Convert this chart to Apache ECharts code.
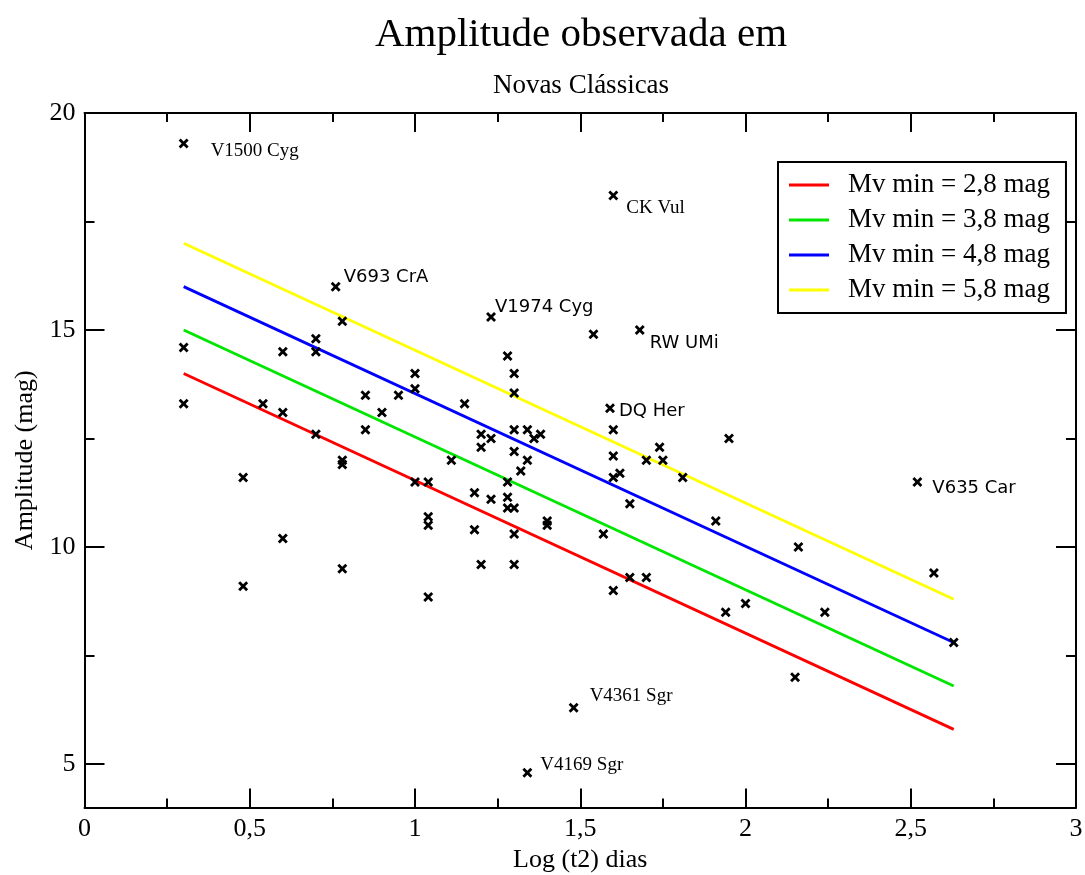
<!DOCTYPE html>
<html>
<head>
<meta charset="utf-8">
<script src="https://cdn.jsdelivr.net/npm/echarts@6/dist/echarts.min.js"></script>
<style>
  html, body { margin: 0; padding: 0; background: #ffffff; }
  #chart { width: 1085px; height: 875px; }
</style>
</head>
<body>
<div id="chart"></div>
<script>
// Classical novae: log of t2 (days) and observed amplitude (mag)
const logT2 = [
  0.30, 0.30, 0.48, 0.48, 0.54, 0.60, 0.60, 0.60, 0.70, 0.70, 0.70,
  0.78, 0.78, 0.78, 0.78, 0.85, 0.85, 0.90, 0.95, 1.00, 1.00, 1.00,
  1.04, 1.04, 1.04, 1.04, 1.11, 1.15, 1.18, 1.18, 1.20, 1.20, 1.20,
  1.23, 1.23, 1.28, 1.28, 1.28, 1.28, 1.30, 1.30, 1.30, 1.30, 1.30,
  1.30, 1.30, 1.32, 1.34, 1.34, 1.36, 1.38, 1.40, 1.40, 1.54, 1.57,
  1.60, 1.60, 1.60, 1.60, 1.62, 1.65, 1.65, 1.70, 1.70, 1.74, 1.75,
  1.81, 1.91, 1.94, 1.95, 2.00, 2.15, 2.16, 2.24, 2.57, 2.63
];
const amplitude = [
  14.6, 13.3, 11.6, 9.1, 13.3, 14.5, 13.1, 10.2, 14.8, 14.5, 12.6,
  15.2, 12.0, 11.9, 9.5, 13.5, 12.7, 13.1, 13.5, 14.0, 13.65, 11.5,
  11.5, 10.7, 10.5, 8.85, 12.0, 13.3, 11.25, 10.4, 12.6, 12.3, 9.6,
  12.5, 11.1, 14.4, 11.5, 11.15, 10.9, 14.0, 13.55, 12.7, 12.2, 10.9,
  10.3, 9.6, 11.75, 12.7, 12.0, 12.5, 12.6, 10.6, 10.5, 14.9, 10.3,
  12.7, 12.1, 11.6, 9.0, 11.7, 11.0, 9.3, 12.0, 9.3, 12.3, 12.0,
  11.6, 10.6, 8.5, 12.5, 8.7, 7.0, 10.0, 8.5, 9.4, 7.8
];

// Individually labelled novae
const namedNovae = ['V1500 Cyg', 'V693 CrA', 'CK Vul', 'V1974 Cyg', 'RW UMi', 'DQ Her', 'V635 Car', 'V4361 Sgr', 'V4169 Sgr'];
const namedLogT2 = [0.30, 0.76, 1.60, 1.23, 1.68, 1.59, 2.52, 1.48, 1.34];
const namedAmplitude = [19.3, 16.0, 18.1, 15.3, 15.0, 13.2, 11.5, 6.3, 4.8];

// Expected amplitude for four values of the minimum absolute magnitude
const fitNames = ['Mv min = 2,8 mag', 'Mv min = 3,8 mag', 'Mv min = 4,8 mag', 'Mv min = 5,8 mag'];
const fitLogT2 = [0.30, 2.63];
const fitMv28 = [14.0, 5.8];
const fitMv38 = [15.0, 6.8];
const fitMv48 = [16.0, 7.8];
const fitMv58 = [17.0, 8.8];

const yMajorTicks = [5, 10, 15, 20];
const yMinorTicks = [7.5, 12.5, 17.5];

// Label styling per named nova: [font family, dx, dy]
const SERIF = 'Liberation Serif, Times New Roman, serif';
const SANS = 'DejaVu Sans, sans-serif';
const labelStyle = {
  'V1500 Cyg': [SERIF, 27, 8],
  'V693 CrA': [SANS, 8, -9],
  'CK Vul': [SERIF, 13, 13],
  'V1974 Cyg': [SANS, 4, -10],
  'RW UMi': [SANS, 10, 13],
  'DQ Her': [SANS, 9, 3],
  'V635 Car': [SANS, 15, 6],
  'V4361 Sgr': [SERIF, 16, -12],
  'V4169 Sgr': [SERIF, 13, -8]
};

// Bold "x" marker
const CROSS = 'path://M0,2L2,0L5,3L8,0L10,2L7,5L10,8L8,10L5,7L2,10L0,8L3,5Z';
const MARK = 10;

const zip = (xs, ys) => xs.map((x, i) => [x, ys[i]]);

const namedData = namedNovae.map((name, i) => {
  const st = labelStyle[name];
  return {
    name: name,
    value: [namedLogT2[i], namedAmplitude[i]],
    label: {
      show: true,
      formatter: '{b}',
      position: 'right',
      distance: 0,
      offset: [st[1] - MARK / 2, st[2]],
      fontFamily: st[0],
      fontSize: st[0] === SANS ? 18 : 19,
      color: '#000',
      opacity: 1
    }
  };
});

const fitColors = ['#ff0000', '#00e600', '#0000ff', '#ffff00'];
const fitValues = [fitMv28, fitMv38, fitMv48, fitMv58];

const fitSeries = fitNames.map((name, i) => ({
  name: name,
  type: 'line',
  data: zip(fitLogT2, fitValues[i]),
  showSymbol: false,
  symbol: 'none',
  lineStyle: { color: fitColors[i], width: 2.8 },
  itemStyle: { color: fitColors[i] },
  z: 2,
  silent: true
}));

const axisBlack = { color: '#000', width: 2 };

function xAxisDef(pos, labels) {
  return {
    type: 'value', position: pos, min: 0, max: 3, interval: 0.5,
    axisLine: { show: true, onZero: false, lineStyle: axisBlack },
    axisTick: { show: true, inside: true, length: 19, lineStyle: axisBlack },
    minorTick: { show: true, splitNumber: 2, length: 9, lineStyle: axisBlack },
    splitLine: { show: false },
    minorSplitLine: { show: false },
    axisLabel: labels ? {
      show: true, margin: 9, color: '#000',
      fontFamily: SERIF, fontSize: 26,
      formatter: v => String(v).replace('.', ',')
    } : { show: false },
    name: labels ? 'Log (t2) dias' : '',
    nameLocation: 'middle', nameGap: 38,
    nameTextStyle: { fontFamily: SERIF, fontSize: 26, color: '#000' }
  };
}

function yAxisDef(pos, ticks, len, line, labels) {
  return {
    type: 'value', position: pos, min: 4, max: 20,
    axisLine: { show: line, onZero: false, lineStyle: axisBlack },
    axisTick: { show: true, inside: true, length: len, customValues: ticks, lineStyle: axisBlack },
    splitLine: { show: false },
    axisLabel: labels ? {
      show: true, margin: 9, color: '#000', customValues: ticks,
      fontFamily: SERIF, fontSize: 26
    } : { show: false },
    name: labels ? 'Amplitude (mag)' : '',
    nameLocation: 'middle', nameGap: 46,
    nameTextStyle: { fontFamily: SERIF, fontSize: 26, color: '#000' }
  };
}

const chart = echarts.init(document.getElementById('chart'), null, { renderer: 'canvas' });

chart.setOption({
  backgroundColor: '#ffffff',
  animation: false,
  graphic: [
    { type: 'text', x: 581, y: 35, style: { text: 'Amplitude observada em', font: '41px Liberation Serif', fill: '#000', textAlign: 'center', textVerticalAlign: 'middle' } },
    { type: 'text', x: 581, y: 86, style: { text: 'Novas Clássicas', font: '27px Liberation Serif', fill: '#000', textAlign: 'center', textVerticalAlign: 'middle' } }
  ],
  grid: { left: 84.5, right: 9, top: 113, bottom: 67.5, containLabel: false, outerBoundsMode: 'none' },
  legend: {
    orient: 'vertical', left: 778, top: 162,
    padding: [9, 16, 9, 11],
    icon: 'rect',
    itemWidth: 40, itemHeight: 3, itemGap: 7,
    borderColor: '#000', borderWidth: 2, backgroundColor: '#fff',
    data: fitNames,
    textStyle: { fontFamily: SERIF, fontSize: 27, lineHeight: 28, color: '#000', padding: [0, 0, 0, 14] }
  },
  xAxis: [xAxisDef('bottom', true), xAxisDef('top', false)],
  yAxis: [
    yAxisDef('left', yMajorTicks, 20, true, true),
    yAxisDef('right', yMajorTicks, 20, true, false),
    yAxisDef('left', yMinorTicks, 10, false, false),
    yAxisDef('right', yMinorTicks, 10, false, false)
  ],
  series: fitSeries.concat([
    {
      type: 'scatter', name: 'novae',
      data: zip(logT2, amplitude),
      symbol: CROSS, symbolSize: MARK,
      itemStyle: { color: '#000', opacity: 1 },
      z: 5, silent: true
    },
    {
      type: 'scatter', name: 'named',
      data: namedData,
      symbol: CROSS, symbolSize: MARK,
      itemStyle: { color: '#000', opacity: 1 },
      z: 5, silent: true
    }
  ])
});
</script>
</body>
</html>
